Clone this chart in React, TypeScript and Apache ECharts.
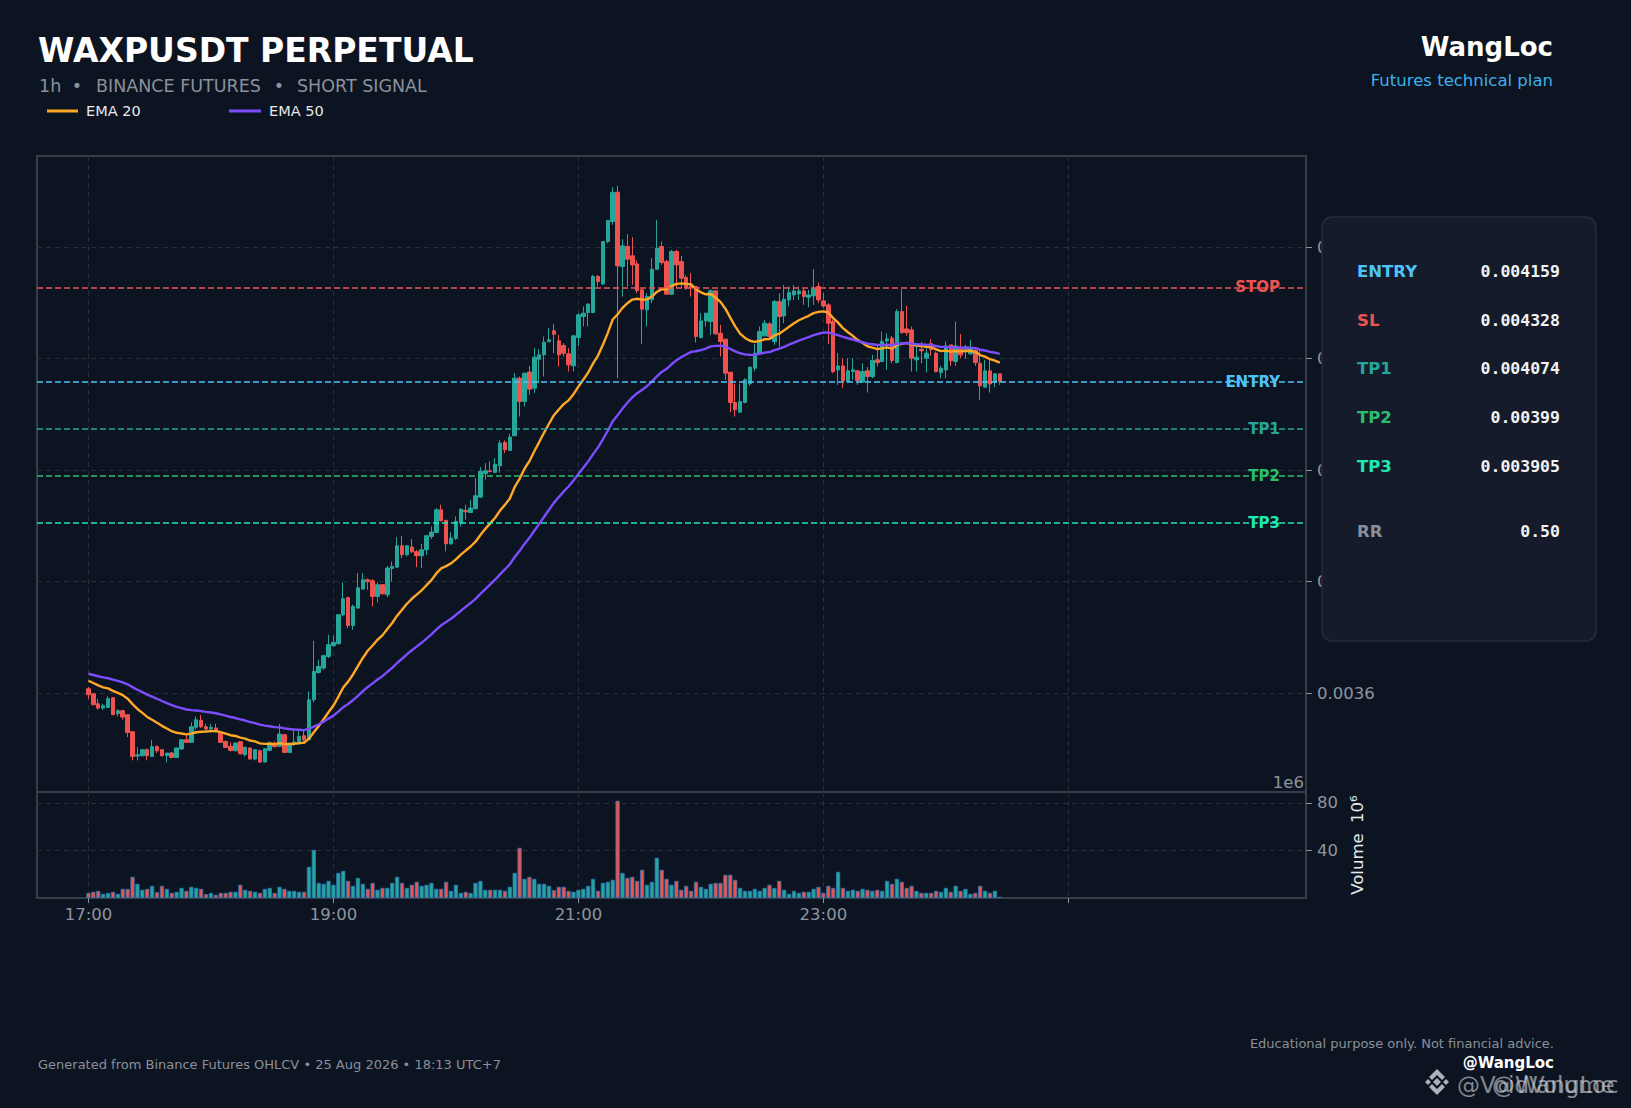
import React, { useEffect, useRef } from "react";
import * as echarts from "echarts";

// ---------------- DATA (prices in micro-USDT, i.e. value x 1e-6) ----------------
const PRICE_UNIT = 1e-6;
const openMicro = [
  3607.7, 3598.8, 3580.8, 3573.0, 3574.2, 3591.6, 3562.9, 3568.3, 3561.1, 3530.6,
  3486.9, 3487.5, 3498.3, 3486.3, 3503.7, 3498.3, 3488.1, 3492.3, 3484.5, 3499.5,
  3516.2, 3511.5, 3538.4, 3550.9, 3539.6, 3535.4, 3537.2, 3528.2, 3513.2, 3504.3,
  3496.5, 3512.7, 3489.3, 3501.3, 3481.6, 3496.5, 3476.2, 3497.1, 3509.1, 3504.3,
  3525.2, 3493.5, 3510.5, 3513.2, 3523.4, 3516.2, 3588.0, 3637.0, 3644.8, 3665.7,
  3685.0, 3688.5, 3740.5, 3771.6, 3721.4, 3752.5, 3786.6, 3803.3, 3801.5, 3773.4,
  3794.4, 3776.4, 3823.7, 3826.0, 3864.3, 3848.2, 3861.9, 3853.6, 3846.4, 3857.1,
  3881.1, 3888.2, 3928.9, 3909.8, 3867.9, 3877.5, 3905.0, 3927.7, 3924.0, 3930.7,
  3951.6, 3993.5, 3998.7, 3995.9, 4007.8, 4049.7, 4035.3, 4061.7, 4165.1, 4123.3,
  4176.0, 4147.2, 4199.0, 4207.0, 4230.3, 4250.0, 4232.1, 4223.7, 4208.7, 4187.2,
  4238.0, 4275.7, 4282.9, 4282.9, 4347.5, 4334.3, 4410.3, 4446.2, 4498.8, 4365.4,
  4401.3, 4384.6, 4370.2, 4323.6, 4287.7, 4305.6, 4360.6, 4401.3, 4374.4, 4315.8,
  4392.3, 4374.4, 4345.7, 4330.7, 4329.5, 4238.0, 4267.9, 4266.8, 4321.8, 4245.8,
  4235.1, 4175.8, 4121.4, 4104.1, 4121.4, 4155.0, 4183.0, 4209.9, 4241.0, 4262.5,
  4230.8, 4302.5, 4276.8, 4305.5, 4314.5, 4316.3, 4321.7, 4310.3, 4312.7, 4329.5,
  4303.7, 4296.6, 4266.7, 4180.0, 4187.1, 4159.0, 4177.0, 4178.2, 4158.0, 4178.2,
  4168.0, 4198.0, 4194.9, 4232.0, 4236.8, 4193.1, 4284.6, 4253.5, 4251.7, 4197.9,
  4217.0, 4201.0, 4227.0, 4209.9, 4175.2, 4179.9, 4224.8, 4194.9, 4220.6, 4217.0,
  4208.7, 4214.6, 4191.9, 4148.9, 4178.2, 4157.2, 4172.8,
];
const closeMicro = [
  3597.0, 3579.0, 3573.0, 3577.2, 3589.8, 3561.1, 3568.3, 3556.9, 3529.4, 3486.3,
  3489.3, 3498.3, 3487.5, 3503.7, 3496.5, 3487.5, 3492.3, 3484.5, 3501.3, 3516.2,
  3511.5, 3539.6, 3552.1, 3539.6, 3535.4, 3538.4, 3531.2, 3511.5, 3502.5, 3497.1,
  3510.3, 3491.1, 3502.5, 3481.6, 3498.3, 3476.2, 3500.1, 3510.3, 3503.7, 3526.4,
  3493.5, 3509.1, 3512.0, 3522.2, 3516.2, 3588.0, 3638.8, 3647.8, 3667.0, 3686.7,
  3690.9, 3740.5, 3769.2, 3721.4, 3755.5, 3788.9, 3803.3, 3799.7, 3773.4, 3794.4,
  3778.2, 3824.3, 3827.2, 3864.3, 3848.2, 3864.3, 3853.6, 3846.4, 3857.1, 3882.3,
  3888.8, 3928.9, 3909.2, 3867.9, 3878.1, 3908.0, 3930.0, 3925.3, 3931.9, 3954.0,
  3997.7, 3998.9, 3997.7, 4010.8, 4048.5, 4036.5, 4059.3, 4165.1, 4123.3, 4174.1,
  4145.4, 4202.8, 4207.0, 4229.7, 4233.9, 4244.0, 4206.9, 4209.9, 4189.0, 4241.0,
  4278.7, 4281.7, 4297.8, 4347.5, 4338.5, 4410.3, 4447.9, 4498.8, 4366.6, 4402.5,
  4378.6, 4368.4, 4322.4, 4288.9, 4311.6, 4360.6, 4398.3, 4372.6, 4315.8, 4392.3,
  4368.4, 4344.5, 4326.6, 4326.6, 4239.8, 4267.9, 4281.7, 4321.8, 4244.6, 4230.9,
  4174.1, 4121.4, 4108.3, 4123.2, 4162.1, 4184.8, 4209.9, 4248.8, 4263.8, 4239.8,
  4302.5, 4275.6, 4306.7, 4318.7, 4321.7, 4321.7, 4311.5, 4314.5, 4326.5, 4305.5,
  4294.8, 4263.7, 4177.0, 4187.1, 4160.8, 4178.2, 4180.0, 4160.8, 4177.0, 4168.0,
  4196.7, 4193.0, 4230.8, 4235.6, 4196.7, 4284.6, 4246.9, 4246.9, 4200.9, 4202.7,
  4214.0, 4209.9, 4216.0, 4177.0, 4182.9, 4223.0, 4196.7, 4223.0, 4206.9, 4221.0,
  4218.8, 4193.1, 4151.3, 4178.2, 4154.8, 4172.8, 4159.0,
];
const lowMicro = [
  3589.2, 3578.0, 3570.1, 3570.1, 3574.2, 3560.5, 3558.1, 3552.1, 3521.0, 3479.2,
  3479.2, 3486.3, 3479.2, 3486.3, 3492.3, 3486.3, 3475.6, 3483.3, 3483.3, 3498.3,
  3510.3, 3511.5, 3534.2, 3537.2, 3533.0, 3529.4, 3529.4, 3510.3, 3501.3, 3495.3,
  3495.3, 3489.3, 3486.3, 3480.4, 3479.2, 3474.4, 3475.6, 3495.3, 3502.5, 3503.1,
  3492.3, 3492.3, 3505.0, 3506.7, 3513.2, 3516.2, 3583.2, 3634.6, 3641.8, 3662.7,
  3683.0, 3687.0, 3737.5, 3716.6, 3713.6, 3752.0, 3786.0, 3785.4, 3755.5, 3762.7,
  3776.4, 3772.2, 3800.3, 3824.3, 3842.2, 3845.2, 3851.2, 3826.0, 3824.3, 3848.2,
  3876.3, 3887.0, 3908.0, 3854.2, 3866.1, 3875.0, 3899.0, 3911.0, 3923.0, 3930.0,
  3949.8, 3982.7, 3995.9, 3995.0, 3995.5, 4030.6, 4035.0, 4061.0, 4096.3, 4114.3,
  4135.0, 4138.2, 4156.1, 4168.1, 4230.3, 4210.0, 4186.0, 4204.0, 4177.0, 4177.0,
  4223.1, 4257.8, 4257.8, 4281.7, 4329.5, 4332.5, 4407.3, 4440.2, 4165.1, 4311.6,
  4329.5, 4332.5, 4317.6, 4226.7, 4257.8, 4299.6, 4359.4, 4368.4, 4314.6, 4314.6,
  4326.6, 4326.6, 4323.6, 4311.6, 4229.1, 4236.9, 4257.8, 4242.8, 4242.8, 4204.0,
  4162.1, 4104.1, 4096.3, 4103.5, 4120.2, 4151.3, 4177.0, 4206.9, 4239.8, 4233.8,
  4224.8, 4221.8, 4263.7, 4293.6, 4305.5, 4305.5, 4296.6, 4292.4, 4296.6, 4299.6,
  4290.6, 4226.6, 4174.0, 4153.1, 4147.1, 4156.0, 4162.0, 4153.1, 4157.2, 4139.3,
  4165.0, 4186.0, 4194.0, 4180.0, 4192.0, 4192.0, 4244.5, 4241.0, 4177.0, 4177.0,
  4192.0, 4175.2, 4205.0, 4175.2, 4165.0, 4165.0, 4187.1, 4187.0, 4200.9, 4200.0,
  4206.9, 4187.1, 4126.1, 4148.0, 4139.3, 4148.9, 4153.1,
];
const highMicro = [
  3610.7, 3599.5, 3589.2, 3580.8, 3594.0, 3592.0, 3571.3, 3570.1, 3561.1, 3530.6,
  3503.1, 3499.5, 3500.7, 3516.2, 3506.1, 3499.5, 3492.3, 3494.1, 3502.5, 3517.4,
  3525.2, 3547.3, 3558.1, 3560.5, 3544.9, 3544.9, 3544.9, 3531.2, 3514.4, 3511.5,
  3511.5, 3513.9, 3504.3, 3502.5, 3499.5, 3498.3, 3501.3, 3513.2, 3513.2, 3544.3,
  3527.0, 3511.5, 3533.0, 3533.0, 3532.4, 3603.0, 3693.8, 3660.0, 3668.7, 3704.6,
  3703.0, 3741.0, 3798.5, 3772.0, 3758.5, 3815.3, 3815.0, 3805.7, 3804.5, 3798.5,
  3795.0, 3828.4, 3836.2, 3879.9, 3882.3, 3866.0, 3876.3, 3857.1, 3867.9, 3883.0,
  3899.0, 3931.9, 3937.9, 3911.0, 3888.2, 3917.0, 3931.0, 3937.9, 3946.8, 3985.7,
  4005.4, 4012.6, 4015.6, 4021.6, 4053.3, 4053.3, 4065.2, 4174.0, 4168.0, 4174.1,
  4187.2, 4218.9, 4217.0, 4239.8, 4254.8, 4262.0, 4242.8, 4228.0, 4218.9, 4242.8,
  4281.7, 4293.7, 4299.6, 4350.5, 4350.5, 4410.3, 4449.1, 4507.7, 4510.1, 4414.5,
  4423.4, 4418.1, 4376.2, 4324.8, 4317.6, 4380.4, 4449.1, 4410.3, 4377.4, 4395.3,
  4395.3, 4384.6, 4350.5, 4353.5, 4329.5, 4281.7, 4282.9, 4324.8, 4322.0, 4260.8,
  4235.1, 4175.8, 4155.0, 4155.0, 4165.1, 4186.0, 4226.7, 4257.8, 4269.8, 4266.0,
  4305.5, 4317.5, 4332.5, 4329.5, 4332.5, 4329.5, 4326.5, 4323.5, 4360.6, 4336.6,
  4317.5, 4299.6, 4269.7, 4209.9, 4200.9, 4200.9, 4200.9, 4180.0, 4191.9, 4185.0,
  4206.9, 4225.0, 4248.7, 4245.7, 4241.0, 4288.8, 4324.7, 4294.8, 4257.7, 4227.8,
  4230.0, 4224.8, 4235.0, 4212.9, 4187.1, 4230.8, 4225.0, 4266.7, 4244.5, 4225.0,
  4233.8, 4218.8, 4214.6, 4197.9, 4197.9, 4174.0, 4173.0,
];
// volume in millions (axis offset 1e6)
const volumeMillions = [
  4.3, 5.2, 6.0, 3.5, 4.3, 5.2, 3.5, 7.7, 7.7, 17.8,
  11.9, 6.9, 7.7, 10.2, 4.9, 10.2, 7.7, 4.3, 5.2, 8.5,
  6.0, 9.4, 8.5, 7.7, 3.2, 4.3, 2.7, 4.3, 4.3, 5.2,
  5.2, 11.1, 6.9, 6.0, 5.2, 4.3, 7.7, 8.5, 4.3, 9.4,
  7.7, 6.0, 6.0, 5.2, 5.2, 26.2, 40.5, 12.7, 11.9, 14.4,
  11.1, 21.1, 22.8, 14.4, 10.2, 16.9, 11.9, 7.7, 12.7, 6.9,
  8.5, 8.5, 12.7, 17.8, 12.7, 8.5, 11.1, 13.6, 10.2, 11.1,
  12.7, 7.7, 7.7, 13.6, 6.0, 11.1, 4.3, 5.2, 4.3, 12.7,
  14.4, 6.9, 6.9, 6.9, 6.9, 6.0, 9.4, 21.1, 42.2, 16.1,
  17.8, 16.1, 11.9, 11.9, 10.2, 6.6, 9.4, 9.4, 6.0, 5.2,
  6.9, 7.7, 10.2, 16.1, 6.0, 12.7, 13.6, 15.3, 81.8, 21.1,
  16.9, 17.8, 14.4, 23.7, 11.1, 13.6, 33.8, 23.7, 16.1, 11.1,
  14.4, 6.9, 10.2, 6.0, 13.6, 9.4, 7.7, 11.9, 12.7, 12.7,
  19.5, 19.5, 15.3, 8.5, 6.0, 6.0, 7.7, 6.0, 8.5, 11.1,
  8.5, 14.4, 6.9, 3.5, 6.0, 4.3, 5.2, 5.2, 7.7, 9.4,
  4.3, 10.2, 8.5, 22.0, 8.5, 6.0, 6.9, 6.0, 7.7, 6.9,
  6.0, 6.9, 6.0, 14.4, 11.9, 16.1, 13.6, 8.5, 10.2, 6.0,
  4.3, 4.3, 4.3, 6.0, 5.2, 8.5, 5.2, 10.2, 6.0, 7.7,
  3.5, 4.3, 10.2, 6.0, 4.3, 6.0, 1.0,
];
// EMA values at the first shown candle (history before the window)
const EMA20_START_MICRO = 3622.1;
const EMA50_START_MICRO = 3634.6;

// time axis: one candle per slot; ticks every 50 candles
const xTickCandle = [0, 50, 100, 150, 200];
const xTickLabels = ["17:00", "19:00", "21:00", "23:00", ""];
const priceTicks = [0.0036, 0.0038, 0.004, 0.0042, 0.0044];
const volumeTicks = [40, 80];

// trade levels
const levelNames = ["STOP", "ENTRY", "TP1", "TP2", "TP3"];
const levelValues = [0.004328, 0.004159, 0.004074, 0.00399, 0.003905];
// panel
const panelLabels = ["ENTRY", "SL", "TP1", "TP2", "TP3", "RR"];
const panelValues = ["0.004159", "0.004328", "0.004074", "0.00399", "0.003905", "0.50"];

// ---------------- STYLE / LAYOUT ----------------
const BG = "#0d1421";
const UP = "#26a69a";
const DOWN = "#ef5350";
const GRIDLINE = "#272d39";
const AXISTEXT = "#8e949e";
const FONT = "DejaVu Sans";
const levelColors = ["#ef5350", "#4fc3f7", "#26a69a", "#2bbd6e", "#1de9b6"];
const panelColors = ["#4fc3f7", "#ef5350", "#26a69a", "#2bbd6e", "#1de9b6", "#8a909a"];
const panelRowY = [271, 320, 368, 417, 466, 531];

const PAD_LEFT = 10;
const SLOT_COUNT = 259;
const PRICE_MIN = 0.0034224;
const PRICE_MAX = 0.0045638;
const VOL_MAX = 89.1;

function ema(values: number[], period: number, start: number): number[] {
  const a = 2 / (period + 1);
  const out: number[] = [];
  let prev = start;
  values.forEach((v, i) => {
    prev = i === 0 ? start : a * v + (1 - a) * prev;
    out.push(prev);
  });
  return out;
}

function txt(x: number, y: number, text: string, o: any) {
  const align = o.align || "left";
  return {
    type: "text",
    x,
    y,
    z: 100,
    silent: true,
    style: {
      text,
      fill: o.fill,
      fontSize: o.size,
      fontWeight: o.weight || "normal",
      fontFamily: o.family || FONT,
      align,
      verticalAlign: "middle",
      textAlign: align,
      textVerticalAlign: "middle",
      opacity: o.opacity == null ? 1 : o.opacity,
    },
  };
}

function buildOption() {
  const categories = Array.from({ length: SLOT_COUNT }, (_, i) => String(i - PAD_LEFT));
  const tickFn = (index: number) => xTickCandle.indexOf(index - PAD_LEFT) >= 0;
  const labelFmt = (_v: string, index: number) => {
    const k = xTickCandle.indexOf(index - PAD_LEFT);
    return k >= 0 ? xTickLabels[k] : "";
  };

  const candleRows = openMicro.map((o, i) => [
    i + PAD_LEFT,
    o * PRICE_UNIT,
    closeMicro[i] * PRICE_UNIT,
    lowMicro[i] * PRICE_UNIT,
    highMicro[i] * PRICE_UNIT,
  ]);
  const ema20 = ema(closeMicro, 20, EMA20_START_MICRO);
  const ema50 = ema(closeMicro, 50, EMA50_START_MICRO);
  const volData = volumeMillions.map((v, i) => ({
    value: [i + PAD_LEFT, v],
    itemStyle: { color: closeMicro[i] >= openMicro[i] ? UP : DOWN },
  }));

  const splitLineX = {
    show: true,
    interval: tickFn,
    alignWithLabel: true,
    lineStyle: { color: GRIDLINE, type: [5, 4], width: 1 },
  };

  const graphic: any[] = [
    txt(38, 50, "WAXPUSDT PERPETUAL", { fill: "#ffffff", size: 33, weight: "bold" }),
    txt(39, 86, "1h", { fill: "#8b919b", size: 17.5 }),
    txt(77, 86, "•", { fill: "#8b919b", size: 17.5, align: "center" }),
    txt(96, 86, "BINANCE FUTURES", { fill: "#8b919b", size: 17.5 }),
    txt(279, 86, "•", { fill: "#8b919b", size: 17.5, align: "center" }),
    txt(297, 86, "SHORT SIGNAL", { fill: "#8b919b", size: 17.5 }),
    {
      type: "line",
      z: 100,
      shape: { x1: 47, y1: 111, x2: 78, y2: 111 },
      style: { stroke: "#ffa726", lineWidth: 3 },
    },
    txt(86, 111, "EMA 20", { fill: "#e8e8e8", size: 14.5 }),
    {
      type: "line",
      z: 100,
      shape: { x1: 229, y1: 111, x2: 261, y2: 111 },
      style: { stroke: "#7c4dff", lineWidth: 3 },
    },
    txt(269, 111, "EMA 50", { fill: "#e8e8e8", size: 14.5 }),
    txt(1553, 47, "WangLoc", { fill: "#ffffff", size: 26, weight: "bold", align: "right" }),
    txt(1553, 80, "Futures technical plan", { fill: "#3fb0ea", size: 16.5, align: "right" }),
    txt(1304, 782, "1e6", { fill: AXISTEXT, size: 16.5, align: "right" }),
    {
      type: "rect",
      z: 100,
      shape: { x: 1322, y: 217, width: 274, height: 424, r: 10 },
      style: { fill: "#151b2a", stroke: "#262d3b", lineWidth: 1.5 },
    },
    txt(38, 1064, "Generated from Binance Futures OHLCV • 25 Aug 2026 • 18:13 UTC+7", {
      fill: "#8a909a",
      size: 13,
    }),
    txt(1554, 1043, "Educational purpose only. Not financial advice.", {
      fill: "#8a909a",
      size: 13,
      align: "right",
    }),
    txt(1554, 1063, "@WangLoc", { fill: "#ffffff", size: 15, weight: "bold", align: "right" }),
    txt(1457, 1085, "@VoidVolume", { fill: "#d4d6da", size: 23, opacity: 0.6 }),
    txt(1492, 1085, "@WangLoc", { fill: "#d4d6da", size: 23, opacity: 0.6 }),
  ];
  panelLabels.forEach((lab, i) => {
    graphic.push(txt(1357, panelRowY[i], lab, { fill: panelColors[i], size: 16.5, weight: "bold" }));
    graphic.push(
      txt(1560, panelRowY[i], panelValues[i], {
        fill: "#f2f2f2",
        size: 16.5,
        weight: "bold",
        family: "DejaVu Sans Mono",
        align: "right",
      })
    );
  });
  // binance-like logo
  const lx = 1437;
  const ly = 1082;
  const logoShapes = [
    [[0, -4], [4, 0], [0, 4], [-4, 0]],
    [[-9, -3], [-6, 0], [-9, 3], [-12, 0]],
    [[9, -3], [12, 0], [9, 3], [6, 0]],
    [[0, -13], [8, -5], [5, -2], [0, -7], [-5, -2], [-8, -5]],
    [[0, 13], [8, 5], [5, 2], [0, 7], [-5, 2], [-8, 5]],
  ];
  logoShapes.forEach((pts) => {
    graphic.push({
      type: "polygon",
      z: 100,
      shape: { points: pts.map((p) => [lx + p[0], ly + p[1]]) },
      style: { fill: "rgba(215,218,222,0.8)" },
    });
  });

  const levelMarkLine = {
    silent: true,
    symbol: ["none", "none"],
    animation: false,
    precision: 6,
    data: levelNames.map((n, i) => ({
      name: n,
      yAxis: levelValues[i],
      lineStyle: { color: levelColors[i], type: [6, 3], width: 1.6, opacity: 1 },
      label: {
        show: true,
        formatter: n,
        position: "insideEnd",
        distance: [26, 0],
        color: levelColors[i],
        fontWeight: "bold",
        fontSize: 15,
        fontFamily: FONT,
      },
    })),
  };

  return {
    animation: false,
    backgroundColor: BG,
    textStyle: { fontFamily: FONT },
    graphic,
    grid: [
      {
        left: 37,
        top: 156,
        width: 1269,
        height: 636,
        show: true,
        borderColor: "#363c48",
        borderWidth: 2,
        backgroundColor: "transparent",
      },
      {
        left: 37,
        top: 792,
        width: 1269,
        height: 106,
        show: true,
        borderColor: "#363c48",
        borderWidth: 2,
        backgroundColor: "transparent",
      },
    ],
    xAxis: [
      {
        type: "category",
        gridIndex: 0,
        data: categories,
        boundaryGap: true,
        axisLine: { show: false },
        axisTick: { show: false },
        axisLabel: { show: false },
        splitLine: splitLineX,
      },
      {
        type: "category",
        gridIndex: 1,
        data: categories,
        boundaryGap: true,
        axisLine: { show: false },
        axisTick: {
          show: true,
          interval: tickFn,
          alignWithLabel: true,
          length: 5,
          lineStyle: { color: AXISTEXT, width: 1 },
        },
        axisLabel: {
          show: true,
          interval: tickFn,
          formatter: labelFmt,
          color: AXISTEXT,
          fontSize: 16.5,
          fontFamily: FONT,
          margin: 8,
        },
        splitLine: splitLineX,
      },
    ],
    yAxis: [
      {
        type: "value",
        gridIndex: 0,
        position: "right",
        min: PRICE_MIN,
        max: PRICE_MAX,
        splitNumber: 5,
        axisLine: { show: false },
        axisTick: {
          show: true,
          length: 6,
          customValues: priceTicks,
          lineStyle: { color: AXISTEXT },
        },
        axisLabel: {
          color: AXISTEXT,
          fontSize: 16.5,
          fontFamily: FONT,
          margin: 11,
          customValues: priceTicks,
          formatter: (v: number) => v.toFixed(4),
        },
        splitLine: { show: true, lineStyle: { color: GRIDLINE, type: [5, 4], width: 1 } },
      },
      {
        type: "value",
        gridIndex: 1,
        position: "right",
        min: 0,
        max: VOL_MAX,
        interval: 40,
        axisLine: { show: false },
        axisTick: {
          show: true,
          length: 6,
          customValues: volumeTicks,
          lineStyle: { color: AXISTEXT },
        },
        axisLabel: {
          color: AXISTEXT,
          fontSize: 16.5,
          fontFamily: FONT,
          margin: 11,
          customValues: volumeTicks,
        },
        splitLine: { show: true, lineStyle: { color: GRIDLINE, type: [5, 4], width: 1 } },
        name: "Volume  10⁶",
        nameLocation: "middle",
        nameRotate: 90,
        nameGap: 40,
        nameTextStyle: { color: "#e8e8e8", fontSize: 16.5, fontFamily: FONT },
      },
    ],
    series: [
      {
        type: "candlestick",
        name: "WAXPUSDT",
        xAxisIndex: 0,
        yAxisIndex: 0,
        data: candleRows,
        encode: { x: 0, y: [1, 2, 3, 4] },
        barWidth: 4,
        itemStyle: {
          color: UP,
          color0: DOWN,
          borderColor: UP,
          borderColor0: DOWN,
          borderWidth: 1,
        },
        z: 3,
      },
      {
        type: "line",
        name: "EMA 20",
        xAxisIndex: 0,
        yAxisIndex: 0,
        data: ema20.map((v, i) => [i + PAD_LEFT, v * PRICE_UNIT]),
        showSymbol: false,
        symbol: "none",
        lineStyle: { color: "#ffa726", width: 2.4 },
        z: 4,
      },
      {
        type: "line",
        name: "EMA 50",
        xAxisIndex: 0,
        yAxisIndex: 0,
        data: ema50.map((v, i) => [i + PAD_LEFT, v * PRICE_UNIT]),
        showSymbol: false,
        symbol: "none",
        lineStyle: { color: "#7c4dff", width: 2.4 },
        z: 4,
        markLine: levelMarkLine,
      },
      {
        type: "bar",
        name: "Volume",
        xAxisIndex: 1,
        yAxisIndex: 1,
        data: volData,
        barWidth: 4.2,
        itemStyle: { borderColor: "#2a78b5", borderWidth: 0.8 },
      },
    ],
  };
}

export default function App() {
  const ref = useRef<HTMLDivElement>(null);
  useEffect(() => {
    if (!ref.current) return;
    const chart = echarts.init(ref.current, null, { renderer: "svg" });
    chart.setOption(buildOption() as any);
    return () => chart.dispose();
  }, []);
  return (
    <div
      ref={ref}
      style={{ position: "fixed", left: 0, top: 0, width: 1631, height: 1108, background: BG }}
    />
  );
}
